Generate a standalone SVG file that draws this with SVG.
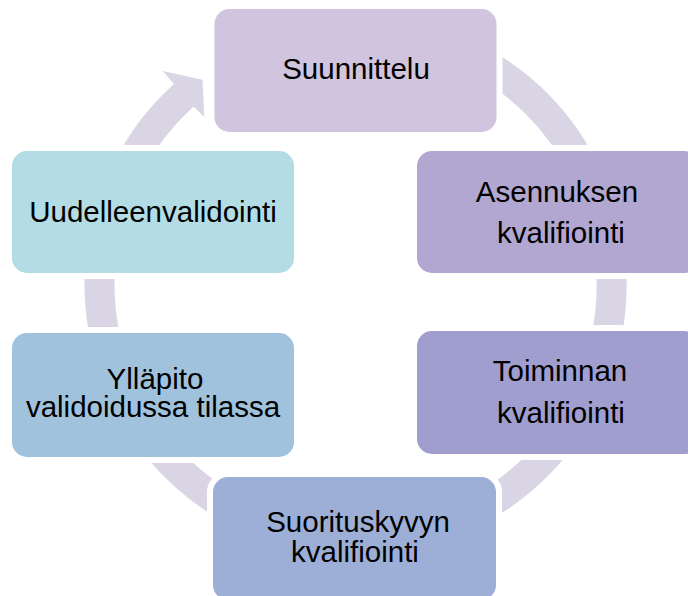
<svg xmlns="http://www.w3.org/2000/svg" width="688" height="596" viewBox="0 0 688 596">
<style>
.node rect{stroke:#fff;stroke-width:12;paint-order:stroke}
.node text{font-family:"Liberation Sans",Arial,sans-serif;font-size:29.5px;fill:#000;text-anchor:middle}
.ring{fill:none;stroke:#D9D5E4;stroke-width:30}
.head{fill:#D9D5E4}
</style>
<rect width="688" height="596" fill="#fff"/>
<g id="connectors">
<path class="ring" d="M227.5,63.3 A256,256 0 1 1 184.2,94.8"/>
<polygon class="head" points="162.8,71 202.5,79.7 204.3,117.1 193.5,106.5 173.8,83.7"/>
</g>
<g id="suunnittelu" class="node">
<rect x="214.5" y="9" width="282" height="123" rx="15" fill="#D0C4DE"/>
<text x="356" y="79">Suunnittelu</text>
</g>
<g id="asennuksen" class="node">
<rect x="417" y="151" width="282" height="122" rx="15" fill="#B1A7D1"/>
<text x="557" y="201.5">Asennuksen</text>
<text x="561" y="242.5">kvalifiointi</text>
</g>
<g id="toiminnan" class="node">
<rect x="417" y="331" width="282" height="123" rx="15" fill="#A09ECF"/>
<text x="560" y="380.5">Toiminnan</text>
<text x="561" y="422.5">kvalifiointi</text>
</g>
<g id="suorituskyvyn" class="node">
<rect x="213" y="477" width="283" height="123" rx="15" fill="#9DAFD6"/>
<text x="358" y="531.5">Suorituskyvyn</text>
<text x="355" y="561.5">kvalifiointi</text>
</g>
<g id="yllapito" class="node">
<rect x="12" y="333" width="282" height="124" rx="15" fill="#A1C2DD"/>
<text x="155" y="388.5">Ylläpito</text>
<text x="153" y="416.5">validoidussa tilassa</text>
</g>
<g id="uudelleenvalidointi" class="node">
<rect x="12" y="151" width="282" height="122" rx="15" fill="#B3DCE5"/>
<text x="153" y="222">Uudelleenvalidointi</text>
</g>
</svg>
